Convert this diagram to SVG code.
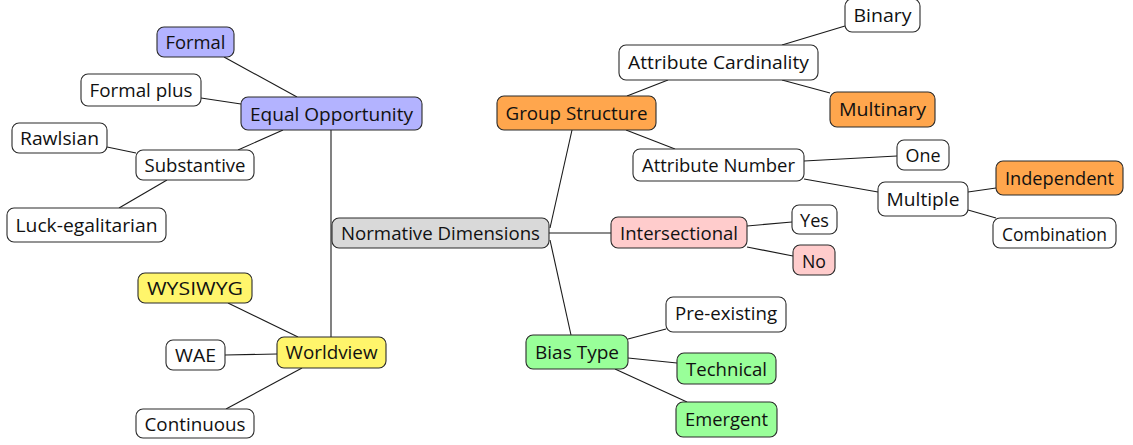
<svg xmlns="http://www.w3.org/2000/svg" width="1133" height="445" viewBox="0 0 1133 445">
<style>
rect{stroke:#2b2b2b;stroke-width:1.1}
.w{fill:#fff}.b{fill:#b3b3ff}.o{fill:#ffa64d}.y{fill:#fff56b}.g{fill:#99ff99}.p{fill:#ffcccc}.k{fill:#d9d9d9}
text{font-family:"Open Sans","Noto Sans","DejaVu Sans",sans-serif;font-size:19px;fill:#111;text-anchor:middle}
#edges line{stroke:#1a1a1a;stroke-width:1.1}
</style>
<rect width="1133" height="445" fill="#fff" style="stroke:none"/>
<g id="edges">
<line x1="224" y1="57" x2="297" y2="97"/>
<line x1="201" y1="98" x2="241" y2="104"/>
<line x1="238" y1="150" x2="283" y2="130"/>
<line x1="107" y1="147" x2="136" y2="153"/>
<line x1="119" y1="208" x2="167" y2="180"/>
<line x1="331" y1="130" x2="331" y2="337"/>
<line x1="228" y1="303" x2="298" y2="337"/>
<line x1="225" y1="355" x2="277" y2="354"/>
<line x1="226" y1="409" x2="302" y2="368"/>
<line x1="550" y1="228" x2="572" y2="130"/>
<line x1="549" y1="233" x2="611" y2="233"/>
<line x1="550" y1="240" x2="571" y2="335"/>
<line x1="627" y1="96" x2="668" y2="80"/>
<line x1="782" y1="45" x2="845" y2="26"/>
<line x1="782" y1="80" x2="830" y2="93"/>
<line x1="626" y1="130" x2="675" y2="149"/>
<line x1="804" y1="161" x2="897" y2="156"/>
<line x1="804" y1="179" x2="878" y2="192"/>
<line x1="968" y1="192" x2="996" y2="188"/>
<line x1="968" y1="210" x2="996" y2="218"/>
<line x1="747" y1="226" x2="792" y2="222"/>
<line x1="747" y1="247" x2="793" y2="256"/>
<line x1="628" y1="339" x2="666" y2="329"/>
<line x1="628" y1="358" x2="677" y2="363"/>
<line x1="615" y1="369" x2="687" y2="402"/>
</g>
<g id="formal"><rect class="b" x="157" y="27" width="77" height="30" rx="7"/><text x="195.5" y="49" textLength="60" lengthAdjust="spacingAndGlyphs">Formal</text></g>
<g id="equal-opportunity"><rect class="b" x="241" y="97" width="181" height="33" rx="7"/><text x="331.5" y="121" textLength="163" lengthAdjust="spacingAndGlyphs">Equal Opportunity</text></g>
<g id="formal-plus"><rect class="w" x="81" y="74" width="120" height="32" rx="7"/><text x="141" y="97" textLength="103" lengthAdjust="spacingAndGlyphs">Formal plus</text></g>
<g id="rawlsian"><rect class="w" x="12" y="123" width="95" height="30" rx="7"/><text x="59.5" y="145" textLength="79" lengthAdjust="spacingAndGlyphs">Rawlsian</text></g>
<g id="substantive"><rect class="w" x="136" y="150" width="118" height="30" rx="7"/><text x="195" y="172" textLength="101" lengthAdjust="spacingAndGlyphs">Substantive</text></g>
<g id="luck-egalitarian"><rect class="w" x="7" y="208" width="159" height="34" rx="7"/><text x="86.5" y="232" textLength="142" lengthAdjust="spacingAndGlyphs">Luck-egalitarian</text></g>
<g id="normative-dimensions"><rect class="k" x="332" y="218" width="217" height="30" rx="7"/><text x="440.5" y="240" textLength="199" lengthAdjust="spacingAndGlyphs">Normative Dimensions</text></g>
<g id="wysiwyg"><rect class="y" x="138" y="273" width="114" height="30" rx="7"/><text x="195" y="295" textLength="96" lengthAdjust="spacingAndGlyphs">WYSIWYG</text></g>
<g id="wae"><rect class="w" x="166" y="340" width="59" height="30" rx="7"/><text x="195.5" y="362" textLength="41" lengthAdjust="spacingAndGlyphs">WAE</text></g>
<g id="worldview"><rect class="y" x="277" y="337" width="109" height="31" rx="7"/><text x="331.5" y="359" textLength="92" lengthAdjust="spacingAndGlyphs">Worldview</text></g>
<g id="continuous"><rect class="w" x="136" y="409" width="118" height="29" rx="7"/><text x="195" y="431" textLength="101" lengthAdjust="spacingAndGlyphs">Continuous</text></g>
<g id="group-structure"><rect class="o" x="497" y="96" width="159" height="34" rx="7"/><text x="576.5" y="120" textLength="142" lengthAdjust="spacingAndGlyphs">Group Structure</text></g>
<g id="attribute-cardinality"><rect class="w" x="619" y="45" width="199" height="35" rx="7"/><text x="718.5" y="69" textLength="181" lengthAdjust="spacingAndGlyphs">Attribute Cardinality</text></g>
<g id="binary"><rect class="w" x="845" y="-1" width="75" height="33" rx="7"/><text x="882.5" y="22" textLength="58" lengthAdjust="spacingAndGlyphs">Binary</text></g>
<g id="multinary"><rect class="o" x="830" y="92" width="105" height="35" rx="7"/><text x="882.5" y="116" textLength="87" lengthAdjust="spacingAndGlyphs">Multinary</text></g>
<g id="attribute-number"><rect class="w" x="633" y="149" width="171" height="32" rx="7"/><text x="718.5" y="172" textLength="153" lengthAdjust="spacingAndGlyphs">Attribute Number</text></g>
<g id="one"><rect class="w" x="897" y="140" width="52" height="30" rx="7"/><text x="923" y="162" textLength="35" lengthAdjust="spacingAndGlyphs">One</text></g>
<g id="multiple"><rect class="w" x="878" y="182" width="90" height="34" rx="7"/><text x="923" y="206" textLength="73" lengthAdjust="spacingAndGlyphs">Multiple</text></g>
<g id="independent"><rect class="o" x="996" y="161" width="127" height="34" rx="7"/><text x="1059.5" y="185" textLength="109" lengthAdjust="spacingAndGlyphs">Independent</text></g>
<g id="combination"><rect class="w" x="993" y="218" width="123" height="30" rx="7"/><text x="1054.5" y="241" textLength="105" lengthAdjust="spacingAndGlyphs">Combination</text></g>
<g id="intersectional"><rect class="p" x="611" y="217" width="136" height="31" rx="7"/><text x="679" y="240" textLength="118" lengthAdjust="spacingAndGlyphs">Intersectional</text></g>
<g id="yes"><rect class="w" x="792" y="205" width="45" height="29" rx="7"/><text x="814.5" y="227" textLength="29" lengthAdjust="spacingAndGlyphs">Yes</text></g>
<g id="no"><rect class="p" x="793" y="245" width="42" height="30" rx="7"/><text x="814" y="268" textLength="24" lengthAdjust="spacingAndGlyphs">No</text></g>
<g id="bias-type"><rect class="g" x="526" y="335" width="102" height="34" rx="7"/><text x="577" y="359" textLength="84" lengthAdjust="spacingAndGlyphs">Bias Type</text></g>
<g id="pre-existing"><rect class="w" x="666" y="297" width="120" height="35" rx="7"/><text x="726" y="320" textLength="102" lengthAdjust="spacingAndGlyphs">Pre-existing</text></g>
<g id="technical"><rect class="g" x="677" y="353" width="99" height="31" rx="7"/><text x="726.5" y="376" textLength="81" lengthAdjust="spacingAndGlyphs">Technical</text></g>
<g id="emergent"><rect class="g" x="676" y="402" width="101" height="35" rx="7"/><text x="726.5" y="426" textLength="83" lengthAdjust="spacingAndGlyphs">Emergent</text></g>
</svg>
